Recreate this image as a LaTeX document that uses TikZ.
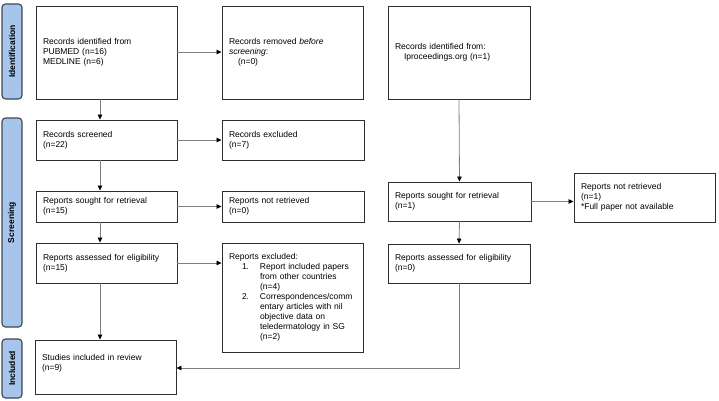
\documentclass[tikz,border=0pt]{standalone}
\usepackage{fontspec}
\setmainfont{Liberation Sans}
\usetikzlibrary{arrows.meta}
\definecolor{phasefill}{HTML}{A7C4EA}
\definecolor{phaseline}{HTML}{3E4852}
\definecolor{boxline}{HTML}{2E2E2E}
\definecolor{conn}{HTML}{7F7F7F}
\tikzset{
  flowbox/.style={draw=boxline, line width=0.9pt, rectangle, inner xsep=7pt, inner ysep=0pt,
    align=left, font=\fontsize{8.5}{10}\selectfont, anchor=center},
  phasebox/.style={draw=phaseline, fill=phasefill, line width=1.1pt, rounded corners=3.5pt,
    minimum width=20pt, inner sep=0pt, font=\bfseries\fontsize{8.5}{9}\selectfont},
  conn/.style={draw=conn, line width=0.8pt, -{Triangle[length=5pt,width=4.5pt,color=black]}}
}
\newcommand{\fbx}[7]{% name, x1, y1, x2, y2, text
  \node[flowbox, minimum width={#4-#2}, minimum height={#5-#3}, text width={#4-#2-14}] (#1) at ({(#2+#4)/2},{(#3+#5)/2}) {#6};}
\begin{document}
\begin{tikzpicture}[x=1pt,y=-1pt]
\useasboundingbox (0,0) rectangle (719,400);
% phase labels
\node[phasebox, minimum height=95pt] (pid) at (12,51.5) {\rotatebox{90}{Identification}};
\node[phasebox, minimum height=209pt] (pscr) at (12,222.5) {\rotatebox{90}{Screening}};
\node[phasebox, minimum height=59pt] (pinc) at (12,368.5) {\rotatebox{90}{Included}};
% boxes
\fbx{id1}{36}{6}{177}{99}{Records identified from\\PUBMED (n=16)\\MEDLINE (n=6)}{}
\fbx{removed}{222}{6}{363}{99}{Records removed \textit{before}\\\textit{screening}:\\\hspace*{9pt}(n=0)}{}
\fbx{iproc}{388}{6}{530}{99}{Records identified from:\\\hspace*{9pt}Iproceedings.org (n=1)}{}
\fbx{screened}{36}{120}{177}{160}{Records screened\\(n=22)}{}
\fbx{excluded}{222}{120}{364}{160}{Records excluded\\(n=7)}{}
\fbx{sought}{36}{191}{177}{222}{Reports sought for retrieval\\(n=15)}{}
\fbx{notret}{222}{191}{364}{222}{Reports not retrieved\\(n=0)}{}
\fbx{assessed}{36}{243}{177}{283}{Reports assessed for eligibility\\(n=15)}{}
\fbx{repexcl}{222}{243}{363}{352}{Reports excluded:\\
\hspace*{13pt}\makebox[18pt][l]{1.}Report included papers\\
\hspace*{31pt}from other countries\\
\hspace*{31pt}(n=4)\\
\hspace*{13pt}\makebox[18pt][l]{2.}Correspondences/comm\\
\hspace*{31pt}entary articles with nil\\
\hspace*{31pt}objective data on\\
\hspace*{31pt}teledermatology in SG\\
\hspace*{31pt}(n=2)}{}
\fbx{studies}{35}{340}{176}{394}{Studies included in review\\(n=9)\\\mbox{}}{}
\fbx{sought2}{388}{182}{531}{221}{Reports sought for retrieval\\(n=1)}{}
\fbx{notret2}{574}{173}{715}{222}{Reports not retrieved\\(n=1)\\{*}Full paper not available}{}
\fbx{assessed2}{388}{244}{530}{283}{Reports assessed for eligibility\\(n=0)}{}
% connectors
\draw[conn] (id1.east |- 0,52) -- (removed.west |- 0,52);
\draw[conn] (100,0 |- id1.south) -- (100,0 |- screened.north);
\draw[conn] (screened.east) -- (excluded.west);
\draw[conn] (100,0 |- screened.south) -- (100,0 |- sought.north);
\draw[conn] (sought.east) -- (notret.west);
\draw[conn] (100,0 |- sought.south) -- (100,0 |- assessed.north);
\draw[conn] (assessed.east) -- (repexcl.west |- assessed.east);
\draw[conn] (100,0 |- assessed.south) -- (100,0 |- studies.north);
\draw[conn] (iproc.south) -- (sought2.north);
\draw[conn] (sought2.east) -- (notret2.west |- sought2.east);
\draw[conn] (sought2.south) -- (assessed2.north);
\coordinate (bend) at (459,368);
\draw[conn] (assessed2.south) -- (bend) -- (studies.east |- bend);
\end{tikzpicture}
\end{document}
